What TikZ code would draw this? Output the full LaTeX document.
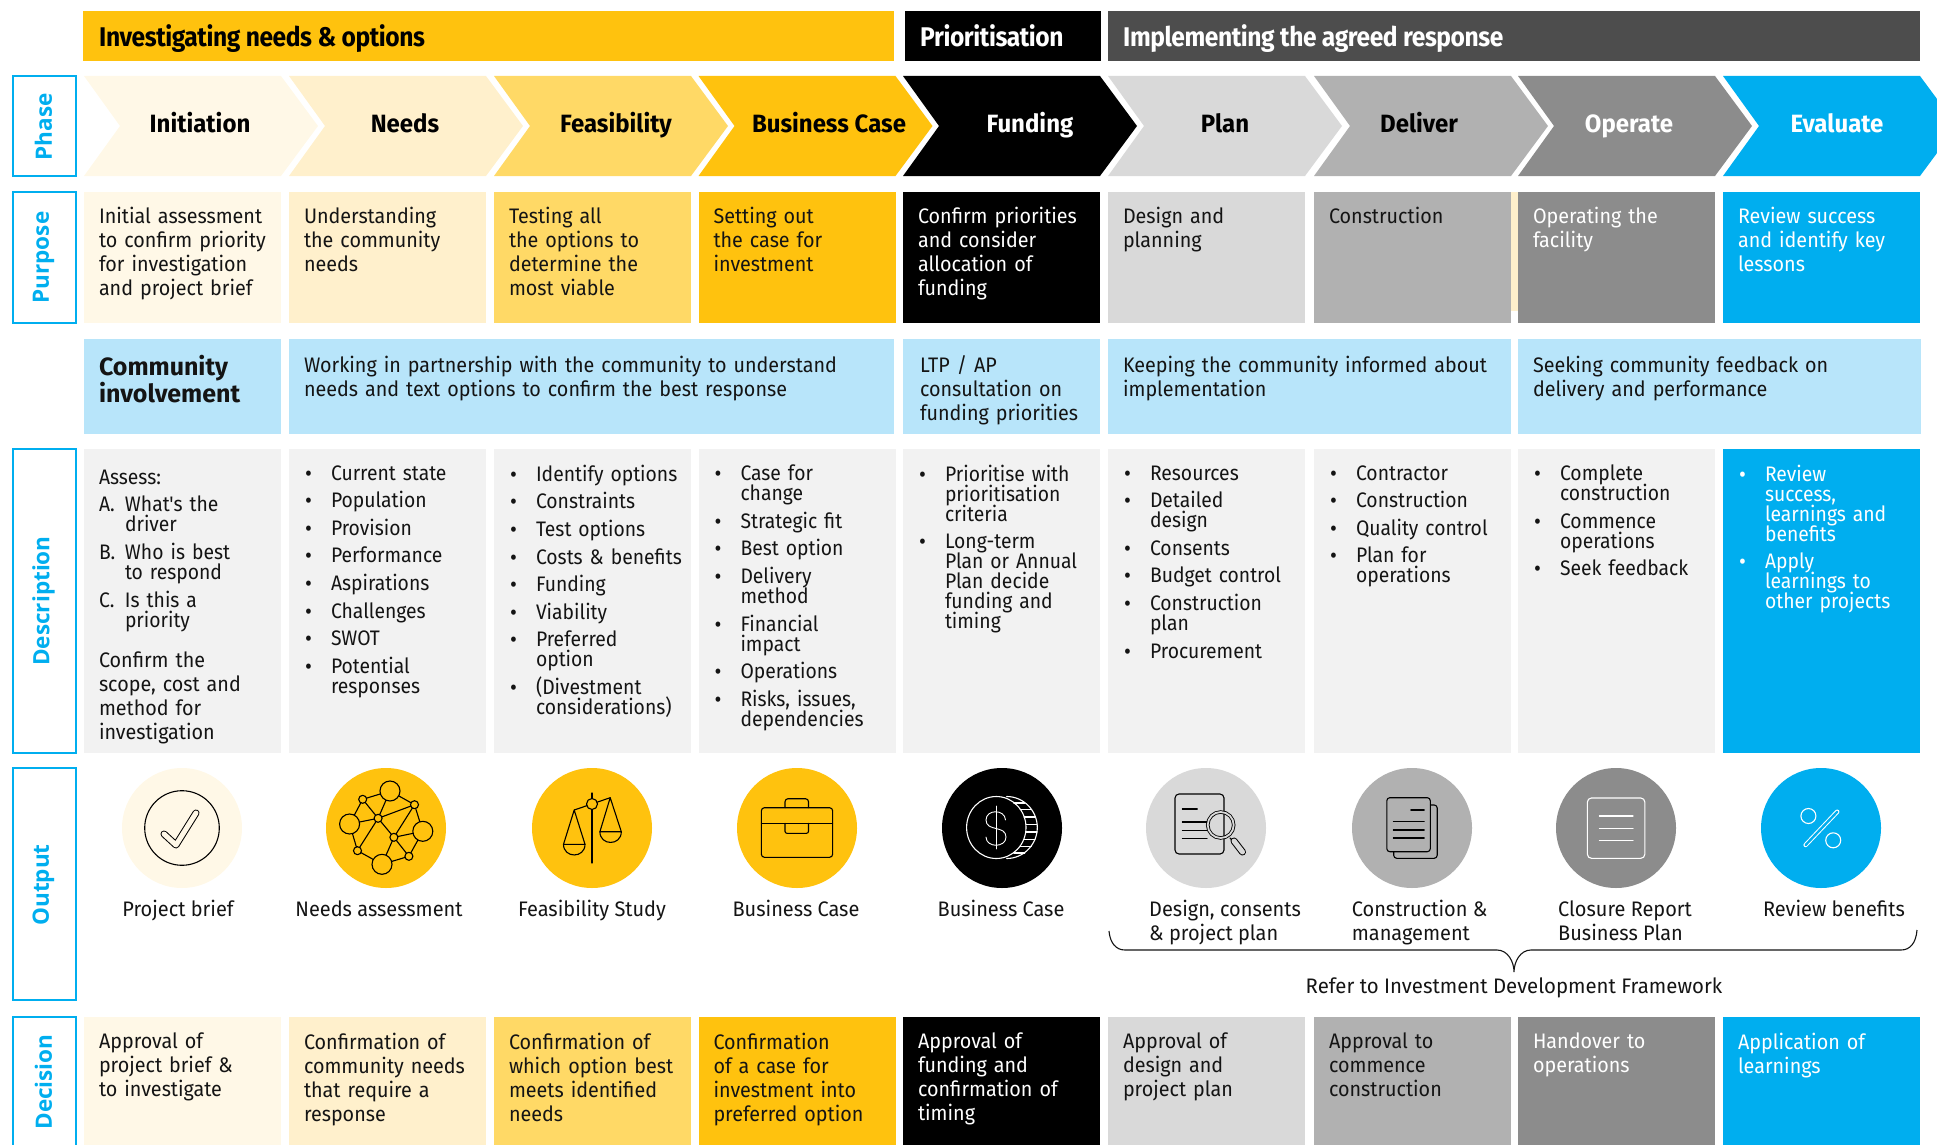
\documentclass[tikz,border=0pt]{standalone}
\usepackage{fontspec}
\setmainfont{Fira Sans}[FakeStretch=0.94]
\newfontfamily\listfont{Fira Sans}[FakeStretch=0.92]
\newfontfamily\labfont{Fira Sans}[FakeStretch=0.95]
\newfontfamily\referfont{Fira Sans}[FakeStretch=0.97]
\newfontfamily\headfont{Fira Sans}[FakeStretch=0.96]
\newfontfamily\comfont{Fira Sans}[FakeStretch=1.0]
\newfontfamily\bandfont{Fira Sans}[FakeStretch=0.91,LetterSpace=-1.5]
\newfontfamily\rowfont{Open Sans}
\definecolor{cA}{HTML}{FFF8E7}
\definecolor{cB}{HTML}{FFF0CC}
\definecolor{cC}{HTML}{FFD966}
\definecolor{cD}{HTML}{FFC20E}
\definecolor{cE}{HTML}{000000}
\definecolor{cF}{HTML}{D9D9D9}
\definecolor{cG}{HTML}{B1B1B1}
\definecolor{cH}{HTML}{8C8C8C}
\definecolor{cI}{HTML}{00AEEF}
\definecolor{cDark}{HTML}{4D4D4D}
\definecolor{cPale}{HTML}{B8E5FA}
\definecolor{cDesc}{HTML}{F2F2F2}
\definecolor{cInk}{HTML}{141414}
\newcommand{\startline}{\leavevmode\rule{0pt}{15pt}}
\newcommand{\tightlines}{\lineskiplimit=-100pt\relax}
\newcommand{\itm}[1]{\let\\\newline\parskip=7.6pt\relax\parindent=0pt\relax\hangindent=26pt\hangafter=1\relax\startline\hbox to 26pt{\raisebox{-1pt}{\fontsize{23}{23}\selectfont •}\hfil}#1\par}
\newcommand{\abc}[2]{\let\\\newline\parskip=7.8pt\relax\parindent=0pt\relax\hangindent=26pt\hangafter=1\relax\startline\hbox to 26pt{#1\hfil}#2\par}
\tikzset{
  block/.style={rectangle,inner sep=0pt,outer sep=0pt,anchor=north west,draw=none},
  txt/.style={anchor=north west,inner sep=0pt,outer sep=0pt,align=left,text width=200pt,font=\fontsize{21}{24}\selectfont\tightlines,text=cInk},
  listtxt/.style={txt,font=\listfont\fontsize{21}{20}\selectfont\tightlines},
  phasetxt/.style={anchor=base,inner sep=0pt,font=\headfont\bfseries\fontsize{25}{25}\selectfont},
  bandtxt/.style={anchor=base west,inner sep=0pt,font=\bandfont\bfseries\fontsize{27}{27}\selectfont},
  rowbox/.style={block,draw=cI,line width=1.2pt,minimum width=63pt},
  rowtxt/.style={rotate=90,inner sep=0pt,text=cI,font=\rowfont\bfseries\fontsize{22.5}{22.5}\selectfont},
  lab/.style={anchor=base,inner sep=0pt,font=\labfont\fontsize{21}{24}\selectfont,text=cInk},
  lableft/.style={lab,anchor=base west},
  disc/.style={circle,inner sep=0pt,outer sep=0pt,minimum size=120pt,draw=none},
  iconk/.style={line width=1.1pt,draw=black,line cap=round,line join=round},
  iconw/.style={line width=1.1pt,draw=white,line cap=round,line join=round},
}
\begin{document}
\begin{tikzpicture}[x=1pt,y=-1pt]
\useasboundingbox (0,0) rectangle (1937,1145);
% bands
\node[block,fill=cD,minimum width=811pt,minimum height=50pt] (bandA) at (83,11) {};
\node[block,fill=cE,minimum width=196pt,minimum height=50pt] (bandB) at (905,11) {};
\node[block,fill=cDark,minimum width=812pt,minimum height=50pt] (bandC) at (1108,11) {};
\node[bandtxt,text=black] (bandAt) at (99,46.5) {Investigating needs \& options};
\node[bandtxt,text=white] (bandBt) at (920,46.5) {Prioritisation};
\node[bandtxt,text=white] (bandCt) at (1123,46.5) {Implementing the agreed response};
% row labels
\node[rowbox,minimum height=100pt] (rPhase) at (13,76) {};
\node[rowbox,minimum height=131pt] (rPurpose) at (13,192) {};
\node[rowbox,minimum height=304pt] (rDesc) at (13,449) {};
\node[rowbox,minimum height=232pt] (rOut) at (13,768) {};
\node[rowbox,minimum height=160pt] (rDec) at (13,1017) {};
\node[rowtxt] (rPhaseT) at (43.5,127) {Phase};
\node[rowtxt] (rPurposeT) at (43.5,257.5) {Purpose};
\node[rowtxt] (rDescT) at (43.5,601) {Description};
\node[rowtxt] (rOutT) at (43.5,885) {Output};
\node[rowtxt] (rDecT) at (43.5,1082) {Decision};
% chevrons
\foreach \myx/\myfill in {84/cA,289/cB,494/cC,698.5/cD,903/cE,1108/cF,1314/cG,1518/cH,1723/cI}{
  \fill[\myfill] (\myx,76) -- ({\myx+197},76) -- ({\myx+234},126) -- ({\myx+197},176) -- (\myx,176) -- ({\myx+36},126) -- cycle;
}
\node[phasetxt,text=black] (ph1) at (200,132) {Initiation};
\node[phasetxt,text=black] (ph2) at (405,132) {Needs};
\node[phasetxt,text=black] (ph3) at (616,132) {Feasibility};
\node[phasetxt,text=black] (ph4) at (829,132) {Business Case};
\node[phasetxt,text=white] (ph5) at (1030,132) {Funding};
\node[phasetxt,text=black] (ph6) at (1225,132) {Plan};
\node[phasetxt,text=black] (ph7) at (1419,132) {Deliver};
\node[phasetxt,text=white] (ph8) at (1629,132) {Operate};
\node[phasetxt,text=white] (ph9) at (1837,132) {Evaluate};
% purpose row
\node[block,fill=cB,minimum width=8pt,minimum height=119pt] (sliver) at (1511,192) {};
\foreach \myidx/\myx/\myfill/\myink/\mytext in {1/84/cA/cInk/{Initial assessment\\to confirm priority\\for investigation\\and project brief},2/289/cB/cInk/{Understanding\\the community\\needs},3/494/cC/cInk/{Testing all\\the options to\\determine the\\most viable},4/698.5/cD/cInk/{Setting out\\the case for\\investment},5/903/cE/white/{Confirm priorities\\and consider\\allocation of\\funding},6/1108/cF/cInk/{Design and\\planning},7/1314/cG/cInk/{Construction},8/1518/cH/white/{Operating the\\facility},9/1723/cI/white/{Review success\\and identify key\\lessons}}{
  \node[block,fill=\myfill,minimum width=197pt,minimum height=131pt] (pur\myidx) at (\myx,192) {};
  \node[txt,text=\myink] (purt\myidx) at ({\myx+15},207) {\startline\mytext};
  \node[block,fill=\myfill,minimum width=197pt,minimum height=140pt] (dec\myidx) at (\myx,1017) {};
}
% community
\node[block,fill=cPale,minimum width=197pt,minimum height=95pt] (com1) at (84,339) {};
\node[block,fill=cPale,minimum width=605pt,minimum height=95pt] (com2) at (289,339) {};
\node[block,fill=cPale,minimum width=197pt,minimum height=95pt] (com3) at (903,339) {};
\node[block,fill=cPale,minimum width=403pt,minimum height=95pt] (com4) at (1108,339) {};
\node[block,fill=cPale,minimum width=403pt,minimum height=95pt] (com5) at (1518,339) {};
\node[txt,font=\comfont\bfseries\fontsize{25}{27}\selectfont\tightlines] (comt1) at (99,355) {\rule{0pt}{18pt}Community\\involvement};
\node[txt,text width=600pt] (comt2) at (304,356) {\startline Working in partnership with the community to understand\\needs and text options to confirm the best response};
\node[txt] (comt3) at (920,356) {\startline LTP / AP\\consultation on\\funding priorities};
\node[txt,text width=395pt] (comt4) at (1123,356) {\startline Keeping the community informed about\\implementation};
\node[txt,text width=395pt] (comt5) at (1533,356) {\startline Seeking community feedback on\\delivery and performance};
% description
\foreach \myidx/\myx/\myfill in {1/84/cDesc,2/289/cDesc,3/494/cDesc,4/698.5/cDesc,5/903/cDesc,6/1108/cDesc,7/1314/cDesc,8/1518/cDesc,9/1723/cI}{
  \node[block,fill=\myfill,minimum width=197pt,minimum height=304pt] (des\myidx) at (\myx,449) {};
}
\node[listtxt] (dest1) at (99,469) {\parskip=8pt\parindent=0pt\startline Assess:\par\abc{A.}{What's the\\driver}\abc{B.}{Who is best\\to respond}\abc{C.}{Is this a\\priority}};
\node[txt] (dest1b) at (99,652) {\startline Confirm the\\scope, cost and\\method for\\investigation};
\node[listtxt] (dest2) at (305,465) {\itm{Current state}\itm{Population}\itm{Provision}\itm{Performance}\itm{Aspirations}\itm{Challenges}\itm{SWOT}\itm{Potential\\responses}};
\node[listtxt] (dest3) at (510,465) {\itm{Identify options}\itm{Constraints}\itm{Test options}\itm{Costs \& benefits}\itm{Funding}\itm{Viability}\itm{Preferred\\option}\itm{(Divestment\\considerations)}};
\node[listtxt] (dest4) at (714.5,465) {\itm{Case for\\change}\itm{Strategic fit}\itm{Best option}\itm{Delivery\\method}\itm{Financial\\impact}\itm{Operations}\itm{Risks, issues,\\dependencies}};
\node[listtxt] (dest5) at (919,465) {\itm{Prioritise with\\prioritisation\\criteria}\itm{Long-term\\Plan or Annual\\Plan decide\\funding and\\timing}};
\node[listtxt] (dest6) at (1124,465) {\itm{Resources}\itm{Detailed\\design}\itm{Consents}\itm{Budget control}\itm{Construction\\plan}\itm{Procurement}};
\node[listtxt] (dest7) at (1330,465) {\itm{Contractor}\itm{Construction}\itm{Quality control}\itm{Plan for\\operations}};
\node[listtxt] (dest8) at (1534,465) {\itm{Complete\\construction}\itm{Commence\\operations}\itm{Seek feedback}};
\node[listtxt,text=white] (dest9) at (1739,465) {\itm{Review\\success,\\learnings and\\benefits}\itm{Apply\\learnings to\\other projects}};
% decision text
\foreach \myidx/\myx/\myink/\mytext in {1/84/cInk/{Approval of\\project brief \&\\to investigate},2/289/cInk/{Confirmation of\\community needs\\that require a\\response},3/494/cInk/{Confirmation of\\which option best\\meets identified\\needs},4/698.5/cInk/{Confirmation\\of a case for\\investment into\\preferred option},5/903/white/{Approval of\\funding and\\confirmation of\\timing},6/1108/cInk/{Approval of\\design and\\project plan},7/1314/cInk/{Approval to\\commence\\construction},8/1518/white/{Handover to\\operations},9/1723/white/{Application of\\learnings}}{
  \node[txt,text=\myink] (dect\myidx) at ({\myx+15},1033) {\startline\mytext};
}
% output discs
\node[disc,fill=cA] (ic1) at (182,828) {};
\node[disc,fill=cD] (ic2) at (386,828) {};
\node[disc,fill=cD] (ic3) at (592,828) {};
\node[disc,fill=cD] (ic4) at (797,828) {};
\node[disc,fill=cE] (ic5) at (1002,828) {};
\node[disc,fill=cF] (ic6) at (1206,828) {};
\node[disc,fill=cG] (ic7) at (1412,828) {};
\node[disc,fill=cH] (ic8) at (1616,828) {};
\node[disc,fill=cI] (ic9) at (1821,828) {};
% check
\begin{scope}[shift={(182,828)}]
  \draw[iconk] (0,0) circle[radius=37.3];
  \draw[line width=7pt,draw=black,line cap=round,line join=round] (-18,6) -- (-6,17) -- (14,-15);
  \draw[line width=5pt,draw=cA,line cap=round,line join=round] (-18,6) -- (-6,17) -- (14,-15);
\end{scope}
% network
\begin{scope}[shift={(386,828)}]
  \foreach \myn/\mya/\myb in {a/4/-37,b/-36.4/-4,c/36.8/3.3,d/-4/36.3,e/-23.3/-28.7,f/28.5/-23.3,g/-7.9/-9.7,h/7.9/9.3,i/-28.5/22.7,j/22.9/28.3}{\coordinate (net\myn) at (\mya,\myb);}
  \foreach \myp/\myq in {e/a,a/f,a/g,e/g,e/b,b/g,g/f,f/c,f/h,g/h,h/c,c/j,h/j,h/d,g/i,b/i,i/d,d/j}{\draw[iconk] (net\myp) -- (net\myq);}
  \foreach \myn in {a,b,c,d}{\draw[iconk,fill=cD] (net\myn) circle[radius=10];}
  \foreach \myn in {e,f,g,h,i,j}{\draw[iconk,fill=cD] (net\myn) circle[radius=4];}
\end{scope}
% scales
\begin{scope}[shift={(592,828)}]
  \draw[iconk] (0,-35) -- (0,35);
  \draw[iconk] (-17.8,-18) -- (18.2,-30.3);
  \draw[iconk,fill=cD] (0,-24) circle[radius=5.5];
  \draw[iconk] (-28.5,16.3) -- (-17.8,-18) -- (-7,16.3) -- cycle;
  \draw[iconk] (-28.5,16.3) .. controls (-28.5,30.5) and (-7,30.5) .. (-7,16.3);
  \draw[iconk] (7.9,3.7) -- (18.2,-30.3) -- (29.3,3.7) -- cycle;
  \draw[iconk] (7.9,3.7) .. controls (7.9,18) and (29.3,18) .. (29.3,3.7);
\end{scope}
% briefcase
\begin{scope}[shift={(797,828)}]
  \draw[iconk,rounded corners=3pt] (-12,-20.3) -- (-12,-29.3) -- (11.5,-29.3) -- (11.5,-20.3);
  \draw[iconk,rounded corners=3pt] (-35.6,-20.3) rectangle (35.6,29.3);
  \draw[iconk] (-35.6,-4.7) -- (35.6,-4.7);
  \draw[iconk,rounded corners=2pt] (-12,-4.7) -- (-12,5.3) -- (11.5,5.3) -- (11.5,-4.7);
\end{scope}
% coin
\begin{scope}[shift={(1002,828)}]
  \draw[iconw] (-5.7,-0.5) ellipse[x radius=29.7,y radius=31];
  \draw[iconw] (4.7,-31.5) .. controls (21.5,-31.5) and (35.3,-17.5) .. (35.3,-0.5) .. controls (35.3,16.5) and (21.5,30.5) .. (4.7,30.5);
  \foreach \mys in {-25,-18.5,-11,-3.5,4,11.5,18.5,25}{
    \pgfmathsetmacro\myia{-5.7+29.7*sqrt(1-(\mys/31)^2)}
    \pgfmathsetmacro\myib{4.7+30.6*sqrt(1-(\mys/31)^2)}
    \draw[iconw] (\myia,\mys) -- (\myib,\mys);
  }
  \draw[iconw,line width=.9pt] (-6,-22) -- (-6,21);
  \draw[iconw,line width=.9pt] (3.5,-8) .. controls (3,-19) and (-16,-19) .. (-16,-8) .. controls (-16,4) and (4,-3) .. (4,9) .. controls (4,20) and (-16,20) .. (-16,9);
\end{scope}
% document with lens
\begin{scope}[shift={(1206,828)}]
  \draw[iconk,rounded corners=4pt] (-31,-34) rectangle (18,26);
  \draw[iconk] (-23.7,-19) -- (-8.7,-19);
  \foreach \mys in {-6,2.3,10.7}{\draw[iconk] (-23.7,\mys) -- (1,\mys);}
  \draw[line width=3.5pt,draw=black] (14.7,-3) circle[radius=13];
  \draw[line width=1.8pt,draw=cF] (14.7,-3) circle[radius=13];
  \draw[iconk] (24,10) -- (29,15);
  \draw[line width=7pt,draw=black,line cap=round] (28,13) -- (36.5,24);
  \draw[line width=5pt,draw=cF,line cap=round] (28,13) -- (36.5,24);
\end{scope}
% stacked pages
\begin{scope}[shift={(1412,828)}]
  \draw[iconk,rounded corners=3pt] (18.3,-23) -- (25.2,-23) -- (25.2,30.3) -- (-18.3,30.3) -- (-18.3,23.7);
  \draw[iconk,rounded corners=3pt] (-25.2,-30.3) rectangle (18.3,23.7);
  \draw[iconk] (-1.2,-18) -- (12.2,-18);
  \foreach \mys in {-6.3,2,10}{\draw[iconk] (-18.7,\mys) -- (12.2,\mys);}
\end{scope}
% report
\begin{scope}[shift={(1616,828)}]
  \draw[iconw,rounded corners=4pt] (-28.6,-30) rectangle (28.8,30.3);
  \foreach \mys in {-12,0.7,12.3}{\draw[iconw] (-16.7,\mys) -- (17,\mys);}
\end{scope}
% percent
\begin{scope}[shift={(1821,828)}]
  \draw[iconw] (-12.6,-12) circle[radius=7.5];
  \draw[iconw] (12.2,12.3) circle[radius=7.5];
  \draw[line width=4.4pt,draw=white,line cap=round] (16.2,-16.3) -- (-15.4,17);
  \draw[line width=2.4pt,draw=cI,line cap=round] (16.2,-16.3) -- (-15.4,17);
\end{scope}
% output labels
\node[lab] (ol1) at (178,916) {Project brief};
\node[lab] (ol2) at (379,916) {Needs assessment};
\node[lab] (ol3) at (592,916) {Feasibility Study};
\node[lab] (ol4) at (796,916) {Business Case};
\node[lab] (ol5) at (1001,916) {Business Case};
\node[lableft] (ol6) at (1149,916) {Design, consents};
\node[lableft] (ol6b) at (1149,940) {\& project plan};
\node[lableft] (ol7) at (1351.6,916) {Construction \&};
\node[lableft] (ol7b) at (1351.6,940) {management};
\node[lableft] (ol8) at (1558,916) {Closure Report};
\node[lableft] (ol8b) at (1558,940) {Business Plan};
\node[lab] (ol9) at (1834,916) {Review benefits};
% brace
\coordinate (brL) at (1109,931);
\coordinate (brR) at (1917,930);
\coordinate (brTip) at (1514,972);
\draw[line width=1.1pt,draw=cInk] (brL) .. controls (1110,943) and (1116,950) .. (1125,950) -- (1497,950) .. controls (1508,950) and (1514,962) .. (brTip) .. controls (1514,962) and (1520,950) .. (1531,950) -- (1901,950) .. controls (1910,950) and (1916,943) .. (brR);
\node[lab,font=\referfont\fontsize{21}{24}\selectfont] (refer) at (1514,993) {Refer to Investment Development Framework};
\end{tikzpicture}
\end{document}
